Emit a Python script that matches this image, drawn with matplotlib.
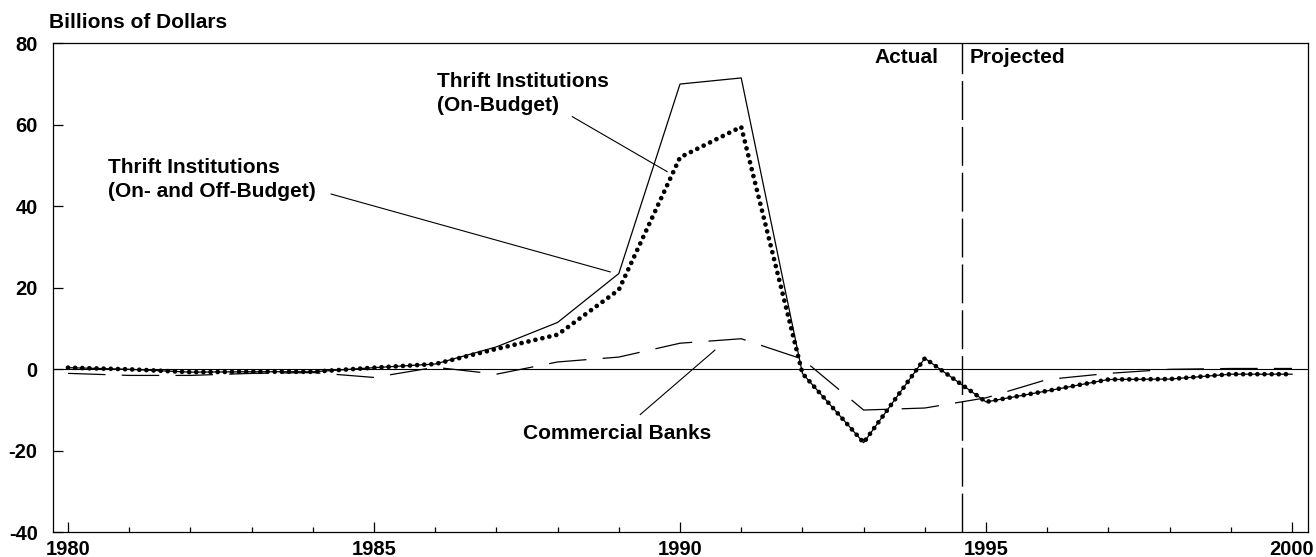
import matplotlib
matplotlib.use('Agg')
import matplotlib.pyplot as plt

# ---------------- data ----------------
years = list(range(1980, 2001))
thrift_on_budget = [0.4, 0.0, -0.7, -0.6, -0.6, 0.4, 1.3, 5.5, 11.5, 23.5, 70.0,
                    71.5, -1.0, -18.0, 2.7, -8.0, -5.3, -2.5, -2.4, -1.2, -1.2]
thrift_on_off_budget = [0.4, 0.0, -0.7, -0.6, -0.6, 0.4, 1.3, 5.0, 8.5, 19.5, 52.0,
                        59.5, -1.0, -18.0, 2.7, -8.0, -5.3, -2.5, -2.4, -1.2, -1.2]
commercial_banks = [-1.0, -1.5, -1.5, -1.0, -0.8, -2.0, 0.5, -1.2, 1.8, 3.0, 6.4,
                    7.5, 2.5, -10.0, -9.5, -7.0, -2.5, -1.0, 0.0, 0.2, 0.2]
x_major_ticks = [1980, 1985, 1990, 1995, 2000]
x_minor_ticks = years
y_ticks = [-40, -20, 0, 20, 40, 60, 80]
y_tick_labels = ['-40', '-20', '0', '20', '40', '60', '80']
divider_year = 1994.6

# ---------------- style ----------------
plt.rcParams['font.family'] = ['Liberation Sans', 'DejaVu Sans']
plt.rcParams['font.weight'] = 'bold'
plt.rcParams['axes.unicode_minus'] = False

W, H = 1316, 557
fig = plt.figure(figsize=(W / 100, H / 100), dpi=100)
ax = fig.add_axes([53 / W, (H - 532.3) / H, 1255 / W, 489 / H])

ax.set_xlim(1979.755, 2000.261)
ax.set_ylim(-40, 80)

ax.axhline(0, color='black', lw=0.8, zorder=1)
ax.axvline(divider_year, color='black', lw=1.0, linestyle=(0, (28, 5)), zorder=1)

ax.plot(years, thrift_on_budget, color='black', lw=0.9, zorder=3)
ax.plot(years, commercial_banks, color='black', lw=0.9,
        linestyle=(0, (30, 13)), zorder=2)
ax.plot(years, thrift_on_off_budget, color='black', lw=3.4,
        linestyle=(0, (0.01, 1.5)), dash_capstyle='round', zorder=4)

# ticks
ax.set_xticks(x_major_ticks)
ax.set_xticks(x_minor_ticks, minor=True)
ax.set_xticklabels([str(y) for y in x_major_ticks])
ax.set_yticks(y_ticks)
ax.set_yticklabels(y_tick_labels)
ax.tick_params(axis='x', which='major', direction='in', length=7, width=0.9,
               pad=5.5, labelsize=14.5)
ax.tick_params(axis='x', which='minor', direction='in', length=3.5, width=0.9)
ax.tick_params(axis='y', which='major', direction='in', length=7, width=0.9,
               pad=11, labelsize=14.5)
for lab in ax.get_xticklabels() + ax.get_yticklabels():
    lab.set_fontweight('bold')
for s in ax.spines.values():
    s.set_linewidth(0.9)

# ---------------- annotations ----------------
fs = 15
fig.text(49 / W, 1 - 22.5 / H, 'Billions of Dollars', fontsize=fs,
         fontweight='bold', ha='left', va='center')

ax.text(1994.23, 76.5, 'Actual', fontsize=fs, fontweight='bold',
        ha='right', va='center')
ax.text(1994.74, 76.5, 'Projected', fontsize=fs, fontweight='bold',
        ha='left', va='center')

ax.text(1986.03, 70.6, 'Thrift Institutions', fontsize=fs, fontweight='bold',
        ha='left', va='center')
ax.text(1986.03, 64.8, '(On-Budget)', fontsize=fs, fontweight='bold',
        ha='left', va='center')
ax.plot([1988.24, 1989.79], [62.0, 48.5], color='black', lw=0.8)

ax.text(1980.65, 49.4, 'Thrift Institutions', fontsize=fs, fontweight='bold',
        ha='left', va='center')
ax.text(1980.65, 43.6, '(On- and Off-Budget)', fontsize=fs, fontweight='bold',
        ha='left', va='center')
ax.plot([1984.3, 1988.86], [43.0, 23.9], color='black', lw=0.8)

ax.text(1988.97, -15.7, 'Commercial Banks', fontsize=fs, fontweight='bold',
        ha='center', va='center')
ax.plot([1989.35, 1990.57], [-11.1, 4.7], color='black', lw=0.8)

fig.savefig('out.png', dpi=100)
